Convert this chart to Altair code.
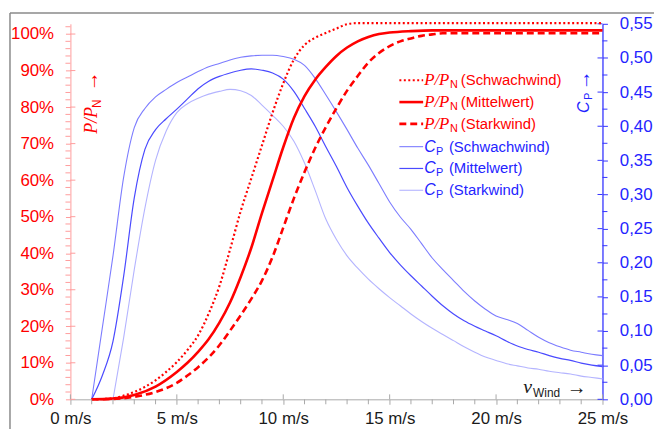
import altair as alt
import pandas as pd

# ---------------- data ----------------
# P/PN curves: wind speed [m/s] and normalised power
v_p_schwach = [1, 2, 2.5, 3, 3.5, 4, 4.5, 5, 5.5, 6, 6.5, 7, 7.5, 8, 8.5, 9, 9.5, 10, 10.5, 11, 11.5, 12, 12.5, 13, 13.5, 25]
p_schwach = [0, 0.003, 0.01, 0.02, 0.034, 0.052, 0.075, 0.102, 0.135, 0.175, 0.235, 0.31, 0.41, 0.515, 0.605, 0.695, 0.785, 0.865, 0.93, 0.97, 0.99, 1.003, 1.015, 1.027, 1.03, 1.03]

v_p_mittel = [1, 2, 3, 4, 5, 5.5, 6, 6.5, 7, 7.5, 8, 8.5, 9, 9.5, 10, 10.5, 11, 11.5, 12, 12.5, 13, 13.5, 14, 14.5, 15, 16, 17, 25]
p_mittel = [0, 0.002, 0.012, 0.035, 0.075, 0.1, 0.13, 0.165, 0.21, 0.265, 0.335, 0.415, 0.51, 0.6, 0.69, 0.77, 0.83, 0.875, 0.91, 0.94, 0.963, 0.98, 0.992, 1.0, 1.004, 1.008, 1.01, 1.01]

v_p_stark = [1, 2, 3, 4, 5, 5.5, 6, 6.5, 7, 7.5, 8, 8.5, 9, 9.5, 10, 10.5, 11, 11.5, 12, 12.5, 13, 13.5, 14, 14.5, 15, 15.5, 16, 16.5, 17, 17.5, 25]
p_stark = [0, 0.001, 0.007, 0.02, 0.045, 0.065, 0.088, 0.115, 0.148, 0.188, 0.23, 0.275, 0.325, 0.39, 0.47, 0.55, 0.622, 0.688, 0.745, 0.797, 0.845, 0.885, 0.922, 0.948, 0.967, 0.98, 0.988, 0.995, 0.999, 1.002, 1.002]

# Cp curves
v_cp = [1, 1.5, 2, 2.5, 3, 3.5, 4, 4.5, 5, 5.5, 6, 6.5, 7, 7.5, 8, 8.5, 9, 9.5, 10, 10.5, 11, 11.5, 12, 12.5,
        13, 13.5, 14, 14.5, 15, 15.5, 16, 16.5, 17, 17.5, 18, 18.5, 19, 19.5, 20, 20.5, 21, 21.5, 22, 22.5,
        23, 23.5, 24, 24.5, 25]
cp_schwach = [0, 0.105, 0.21, 0.325, 0.398, 0.426, 0.443, 0.454, 0.464, 0.472, 0.48, 0.487, 0.492, 0.497, 0.501,
              0.503, 0.504, 0.504, 0.502, 0.498, 0.489, 0.47, 0.446, 0.421, 0.395, 0.368, 0.343, 0.316, 0.289,
              0.267, 0.249, 0.228, 0.207, 0.19, 0.174, 0.158, 0.144, 0.132, 0.122, 0.117, 0.111, 0.101, 0.091,
              0.083, 0.077, 0.072, 0.069, 0.066, 0.064]
cp_mittel = [0, 0.035, 0.085, 0.18, 0.295, 0.366, 0.395, 0.411, 0.425, 0.44, 0.455, 0.466, 0.473, 0.478, 0.482,
             0.484, 0.482, 0.478, 0.469, 0.451, 0.426, 0.4, 0.37, 0.341, 0.31, 0.283, 0.258, 0.236, 0.215, 0.197,
             0.181, 0.166, 0.151, 0.137, 0.125, 0.115, 0.107, 0.1, 0.093, 0.085, 0.078, 0.073, 0.069, 0.064, 0.06,
             0.057, 0.053, 0.05, 0.048]
v_cp_stark = v_cp[2:]
cp_stark = [0, 0.09, 0.19, 0.28, 0.35, 0.393, 0.42, 0.433, 0.441, 0.447, 0.451, 0.454, 0.452, 0.445, 0.431, 0.416,
            0.4, 0.378, 0.346, 0.306, 0.264, 0.234, 0.21, 0.192, 0.176, 0.162, 0.149, 0.137, 0.125, 0.114, 0.104,
            0.095, 0.086, 0.077, 0.069, 0.062, 0.057, 0.052, 0.049, 0.046, 0.044, 0.041, 0.039, 0.037, 0.034,
            0.032, 0.03]

# axis ticks / labels
x_major = [0, 5, 10, 15, 20, 25]
x_minor = [v for v in range(1, 25) if v % 5 != 0]
p_major = [i / 10 for i in range(11)]
p_minor = [round(i * 0.02, 2) for i in range(1, 52) if i % 5 != 0]
cp_major = [round(i * 0.05, 2) for i in range(12)]
cp_minor = [round(0.025 + i * 0.05, 3) for i in range(11)]

series_names = ["Schwachwind", "Mittelwert", "Starkwind"]

# ---------------- styling ----------------
W, H = 537, 379
P_MAX = 1.028
CP_MAX = 0.55
SANS = "Liberation Sans"
SERIF = "Liberation Serif"
RED = "#ff0000"
RED_LIGHT = "#ff9c9c"
BLUE_AXIS = "#3434ff"
BLUE_TEXT = "#2424ff"
GRAY = "#a8a8a8"
CP_COLORS = ["#7c7cff", "#4a4aff", "#b4b4ff"]

x_scale = alt.Scale(domain=[0, 25], nice=False, zero=False)
yl_scale = alt.Scale(domain=[0, P_MAX], nice=False)
yr_scale = alt.Scale(domain=[0, CP_MAX], nice=False)

x_axis = alt.Axis(values=x_major, labelExpr="datum.value + ' m/s'", labelColor="#1a1a1a",
                  labelFont=SANS, labelFontSize=17, labelPadding=6, tickSize=5, tickColor=GRAY,
                  domainColor=GRAY, title=None, grid=False, labelFlush=False, labelOverlap=False)
left_axis = alt.Axis(orient="left", values=p_major, format=".0%", labelColor=RED, labelFont=SANS,
                     labelFontSize=17, labelPadding=12, tickSize=5, tickColor=RED_LIGHT,
                     domainColor=RED_LIGHT, title=None, grid=False, labelFlush=False, labelOverlap=False)
right_axis = alt.Axis(orient="right", values=cp_major,
                      labelExpr="replace(format(datum.value, '.2f'), '.', ',')",
                      labelColor=BLUE_TEXT, labelFont=SANS, labelFontSize=17, labelPadding=12,
                      tickSize=5, tickColor=BLUE_AXIS, domainColor=BLUE_AXIS, domainWidth=1.3,
                      title=None, grid=False, labelFlush=False, labelOverlap=False)

X = alt.X("v:Q", scale=x_scale, axis=x_axis)


def line(vs, ys, yscale, yaxis, color, width, dash=None):
    df = pd.DataFrame({"v": vs, "y": ys})
    kw = dict(color=color, strokeWidth=width, interpolate="monotone")
    if dash:
        kw["strokeDash"] = dash
    return alt.Chart(df).mark_line(**kw).encode(
        x=X, y=alt.Y("y:Q", scale=yscale, axis=yaxis))


def yticks(vals, yscale, yaxis, x0, x1, color, width=1):
    df = pd.DataFrame({"y": vals})
    return alt.Chart(df).mark_rule(color=color, strokeWidth=width).encode(
        y=alt.Y("y:Q", scale=yscale, axis=yaxis), x=alt.value(x0), x2=alt.value(x1))


def xticks(vals, y0, y1):
    df = pd.DataFrame({"v": vals})
    return alt.Chart(df).mark_rule(color=GRAY, strokeWidth=1).encode(
        x=X, y=alt.value(y0), y2=alt.value(y1))


one = pd.DataFrame({"d": [0]})


def txt(s, x, y, size, color, font=SANS, style="normal", angle=0, baseline="middle", align="left"):
    kw = dict(text=s, font=font, fontSize=size, color=color, fontStyle=style,
              align=align, baseline=baseline)
    if angle:
        kw["angle"] = angle
    return alt.Chart(one).mark_text(**kw).encode(x=alt.value(x), y=alt.value(y))


def seg(x0, x1, y, color, width, dash=None):
    kw = dict(color=color, strokeWidth=width)
    if dash:
        kw["strokeDash"] = dash
    return alt.Chart(one).mark_rule(**kw).encode(x=alt.value(x0), x2=alt.value(x1), y=alt.value(y))


# ---------------- Cp group (right axis) ----------------
cp_group = alt.layer(
    line(v_cp_stark, cp_stark, yr_scale, right_axis, CP_COLORS[2], 1.1),
    line(v_cp, cp_schwach, yr_scale, right_axis, CP_COLORS[0], 1.1),
    line(v_cp, cp_mittel, yr_scale, right_axis, CP_COLORS[1], 1.2),
    yticks(cp_minor, yr_scale, right_axis, W, W + 5, BLUE_AXIS),
    yticks(cp_major, yr_scale, right_axis, W - 5, W, BLUE_AXIS),
)

# ---------------- P/PN group (left axis) ----------------
p_group = alt.layer(
    line(v_p_schwach, p_schwach, yl_scale, left_axis, RED, 2.2, [2, 2.5]),
    line(v_p_mittel, p_mittel, yl_scale, left_axis, RED, 2.6),
    line(v_p_stark, p_stark, yl_scale, left_axis, RED, 2.6, [7, 4]),
    yticks(p_minor, yl_scale, left_axis, -5, 0, RED_LIGHT),
    yticks(p_major, yl_scale, left_axis, 0, 5, RED_LIGHT),
    xticks(x_minor, H, H + 5),
    xticks(x_major, H - 5, H),
)

# ---------------- legend & axis titles ----------------
rows = [57, 79, 101, 124, 146, 168]
decor = [
    # frame
    seg(-61, W + 60, -11, "#8a8a8a", 1.5),
    alt.Chart(one).mark_rule(color="#8a8a8a", strokeWidth=1.5).encode(
        x=alt.value(-61), y=alt.value(-11), y2=alt.value(H + 40)),
    # legend symbols
    seg(332, 356, rows[0], RED, 2.2, [2, 2.5]),
    seg(332, 356, rows[1], RED, 2.6),
    seg(332, 356, rows[2], RED, 2.6, [7, 4]),
    seg(332, 356, rows[3], CP_COLORS[0], 1.1),
    seg(332, 356, rows[4], CP_COLORS[1], 1.2),
    seg(332, 356, rows[5], CP_COLORS[2], 1.1),
]
for i, name in enumerate(series_names):
    y = rows[i]
    decor += [
        txt("P/P", 357, y, 17, RED, font=SERIF, style="italic"),
        txt("N", 383, y + 5, 11, RED),
        txt("(" + name + ")", 394, y, 15, RED),
    ]
for i, name in enumerate(series_names):
    y = rows[3 + i]
    decor += [
        txt("C", 357, y, 16, BLUE_TEXT, style="italic"),
        txt("P", 369, y + 5, 11, BLUE_TEXT),
        txt("(" + name + ")", 382, y, 15, BLUE_TEXT),
    ]
decor += [
    # left axis title  P/PN ->
    txt("P/P", 22, 111, 18, RED, font=SERIF, style="italic", angle=270),
    txt("N", 27, 85, 12, RED, angle=270),
    txt("\u2192", 22, 68, 20, RED, angle=270),
    # right axis title  CP ->
    txt("C", 518, 90, 16, BLUE_TEXT, style="italic", angle=270),
    txt("P", 523, 77, 11, BLUE_TEXT, angle=270),
    txt("\u2192", 518, 67, 20, BLUE_TEXT, angle=270),
    # x axis title  vWind ->
    txt("v", 457, 373, 20, "#1a1a1a", font=SERIF, style="italic", baseline="alphabetic"),
    txt("Wind", 467, 377, 12, "#1a1a1a", baseline="alphabetic"),
    txt("\u2192", 501, 368, 20, "#1a1a1a"),
]

chart = alt.layer(cp_group, p_group, *decor).resolve_scale(y="independent").properties(
    width=W, height=H,
    padding={"left": 63, "top": 14, "right": 52, "bottom": 28},
    autosize=alt.AutoSizeParams(type="none"),
    background="white",
).configure_view(stroke=None)

chart.save("out.html", embed_options={"renderer": "svg", "actions": False})
